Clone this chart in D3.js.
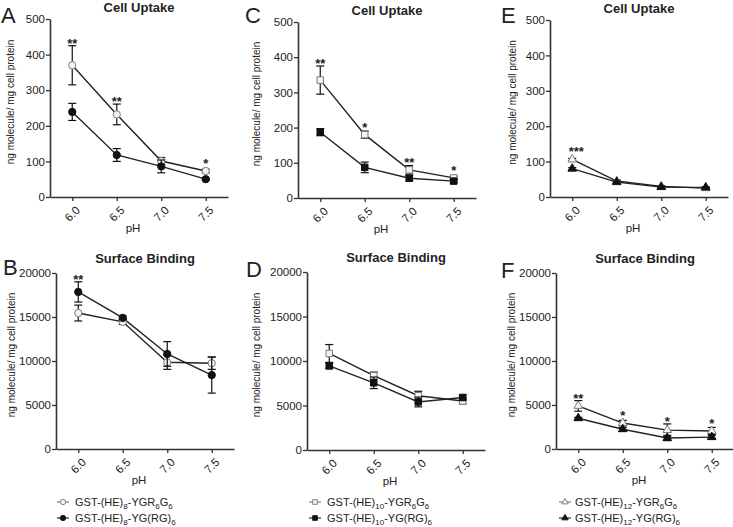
<!DOCTYPE html>
<html>
<head>
<meta charset="utf-8">
<script src="https://cdn.jsdelivr.net/npm/d3@7"></script>
<style>
  body { margin: 0; background: #fff; }
  svg text { font-family: "Liberation Sans", Arial, sans-serif; fill: #222; }
</style>
</head>
<body>
<div id="chart"></div>
<script>
// pH levels on the x axis
const phValues = [6.0, 6.5, 7.0, 7.5];
const phTickLabels = ["6.0", "6.5", "7.0", "7.5"];
const uptakeTicks = [0, 100, 200, 300, 400, 500];
const bindingTicks = [0, 5000, 10000, 15000, 20000];

// GST-(HE)8
const uptakeHE8Open = [370, 232, 101, 73];
const uptakeHE8OpenErr = [55, 29, 10, 5];
const uptakeHE8Filled = [239, 118, 86, 50];
const uptakeHE8FilledErr = [24, 18, 18, 3];
const uptakeHE8Stars = ["**", "**", "", "*"];
const bindingHE8Open = [15450, 14450, 9850, 9750];
const bindingHE8OpenErr = [900, 300, 800, 700];
const bindingHE8Filled = [17850, 14900, 10800, 8400];
const bindingHE8FilledErr = [1150, 200, 1400, 2050];
const bindingHE8Stars = ["**", "", "", ""];

// GST-(HE)10
const uptakeHE10Open = [335, 180, 80, 57];
const uptakeHE10OpenErr = [40, 10, 12, 5];
const uptakeHE10Filled = [187, 87, 56, 48];
const uptakeHE10FilledErr = [10, 15, 8, 5];
const uptakeHE10Stars = ["**", "*", "**", "*"];
const bindingHE10Open = [10850, 8350, 6100, 5500];
const bindingHE10OpenErr = [1000, 400, 500, 300];
const bindingHE10Filled = [9450, 7550, 5400, 5900];
const bindingHE10FilledErr = [300, 650, 550, 300];
const bindingHE10Stars = ["", "", "", ""];

// GST-(HE)12
const uptakeHE12Open = [106, 45, 30, 25];
const uptakeHE12OpenErr = [3, 3, 2, 2];
const uptakeHE12Filled = [80, 42, 28, 27];
const uptakeHE12FilledErr = [3, 3, 2, 2];
const uptakeHE12Stars = ["***", "", "", ""];
const bindingHE12Open = [4900, 2950, 2150, 2050];
const bindingHE12OpenErr = [600, 300, 700, 400];
const bindingHE12Filled = [3500, 2250, 1250, 1350];
const bindingHE12FilledErr = [100, 200, 300, 200];
const bindingHE12Stars = ["**", "*", "*", "*"];

const legendHE = ["8", "10", "12"];

const W = 733, H = 527;
const svg = d3.select("#chart").append("svg")
    .attr("width", W).attr("height", H);

const axisColor = "#333";

function drawPanel(p) {
    const x = d3.scaleLinear().domain([5.75, 7.75]).range([p.x0, p.x0 + 178]);
    const y = d3.scaleLinear().domain(p.domain).range([p.yBottom, p.yTop]);
    const g = svg.append("g");

    // y axis
    const ya = g.append("g")
        .attr("transform", `translate(${p.x0},0)`)
        .call(d3.axisLeft(y).tickValues(p.ticks).tickSize(4).tickSizeOuter(0).tickFormat(d3.format("d")));
    ya.select(".domain").attr("stroke", axisColor).attr("stroke-width", 1.6);
    ya.selectAll(".tick line").attr("stroke", axisColor).attr("stroke-width", 1.3);
    ya.selectAll(".tick text").attr("font-size", 11.5).attr("x", -5).attr("fill", "#222")
        .style("font-family", "Liberation Sans, Arial, sans-serif");

    // x axis
    const xa = g.append("g")
        .attr("transform", `translate(0,${p.yBottom})`)
        .call(d3.axisBottom(x).tickValues(phValues).tickSize(4).tickSizeOuter(0)
            .tickFormat((d, i) => phTickLabels[i]));
    xa.select(".domain").attr("stroke", axisColor).attr("stroke-width", 1.6);
    xa.selectAll(".tick line").attr("stroke", axisColor).attr("stroke-width", 1.3);
    xa.selectAll(".tick text")
        .attr("font-size", 11.5).attr("fill", "#222")
        .style("font-family", "Liberation Sans, Arial, sans-serif")
        .attr("text-anchor", "end")
        .attr("x", 0).attr("y", 0).attr("dy", 0)
        .attr("transform", "translate(8,14) rotate(-45)");

    // titles
    g.append("text")
        .attr("x", p.x0 + 89).attr("y", p.yTop - (p.row === 0 ? 7 : 10))
        .attr("text-anchor", "middle")
        .attr("font-weight", "bold").attr("font-size", 13)
        .text(p.title);

    g.append("text")
        .attr("x", p.x0 + 83).attr("y", p.yBottom + 35)
        .attr("text-anchor", "middle").attr("font-size", 11.5)
        .text("pH");

    g.append("text")
        .attr("transform", `translate(${p.x0 - p.labelOff},${(p.yTop + p.yBottom) / 2 - 6}) rotate(-90)`)
        .attr("text-anchor", "middle").attr("font-size", 10)
        .text("ng molecule/ mg cell protein");

    g.append("text")
        .attr("x", p.letterX).attr("y", p.letterY)
        .attr("font-size", 22)
        .text(p.letter);

    const series = [
        {vals: p.open, errs: p.openErr, fill: "#f4f4f4", stroke: "#7a7a7a"},
        {vals: p.filled, errs: p.filledErr, fill: "#111", stroke: "#111"}
    ];

    const line = d3.line().x((d, i) => x(phValues[i])).y(d => y(d));
    series.forEach(s => {
        g.append("path")
            .attr("d", line(s.vals))
            .attr("fill", "none").attr("stroke", "#222").attr("stroke-width", 1.4);
    });

    series.forEach(s => {
        const eb = g.append("g");
        s.vals.forEach((v, i) => {
            const cx = x(phValues[i]);
            const top = y(v + s.errs[i]), bot = y(v - s.errs[i]);
            eb.append("line").attr("x1", cx).attr("x2", cx).attr("y1", top).attr("y2", bot)
                .attr("stroke", "#111").attr("stroke-width", 1.2);
            [top, bot].forEach(yy => {
                eb.append("line").attr("x1", cx - 4).attr("x2", cx + 4).attr("y1", yy).attr("y2", yy)
                    .attr("stroke", "#111").attr("stroke-width", 1.2);
            });
        });
        g.selectAll(null).data(s.vals).enter().append("path")
            .attr("d", d3.symbol().type(p.symbol).size(p.symbolSize))
            .attr("transform", (d, i) => `translate(${x(phValues[i])},${y(d)})`)
            .attr("fill", s.fill).attr("stroke", s.stroke).attr("stroke-width", 1);
    });

    // significance stars
    g.selectAll(null).data(p.stars).enter().append("text")
        .attr("x", (d, i) => x(phValues[i]) + (d.length > 2 ? 4 : 0))
        .attr("y", (d, i) => {
            const top = Math.min(
                y(p.open[i] + p.openErr[i]), y(p.filled[i] + p.filledErr[i]),
                y(p.open[i]) - 5, y(p.filled[i]) - 5);
            return top + 2;
        })
        .attr("text-anchor", "middle").attr("font-size", 13).attr("font-weight", "bold")
        .text(d => d);
}

const panels = [
    {letter: "A", letterX: 1, letterY: 23, title: "Cell Uptake", row: 0, x0: 50, yTop: 19, yBottom: 197,
     domain: [0, 500], ticks: uptakeTicks, labelOff: 36, symbol: d3.symbolCircle, symbolSize: 42,
     open: uptakeHE8Open, openErr: uptakeHE8OpenErr, filled: uptakeHE8Filled, filledErr: uptakeHE8FilledErr,
     stars: uptakeHE8Stars},
    {letter: "C", letterX: 245, letterY: 23, title: "Cell Uptake", row: 0, x0: 298, yTop: 22, yBottom: 198,
     domain: [0, 500], ticks: uptakeTicks, labelOff: 38, symbol: d3.symbolSquare, symbolSize: 42,
     open: uptakeHE10Open, openErr: uptakeHE10OpenErr, filled: uptakeHE10Filled, filledErr: uptakeHE10FilledErr,
     stars: uptakeHE10Stars},
    {letter: "E", letterX: 501, letterY: 23, title: "Cell Uptake", row: 0, x0: 550, yTop: 20, yBottom: 197,
     domain: [0, 500], ticks: uptakeTicks, labelOff: 34, symbol: d3.symbolTriangle, symbolSize: 32,
     open: uptakeHE12Open, openErr: uptakeHE12OpenErr, filled: uptakeHE12Filled, filledErr: uptakeHE12FilledErr,
     stars: uptakeHE12Stars},
    {letter: "B", letterX: 3, letterY: 275, title: "Surface Binding", row: 1, x0: 56, yTop: 273, yBottom: 449,
     domain: [0, 20000], ticks: bindingTicks, labelOff: 41, symbol: d3.symbolCircle, symbolSize: 42,
     open: bindingHE8Open, openErr: bindingHE8OpenErr, filled: bindingHE8Filled, filledErr: bindingHE8FilledErr,
     stars: bindingHE8Stars},
    {letter: "D", letterX: 246, letterY: 277, title: "Surface Binding", row: 1, x0: 307, yTop: 272, yBottom: 450,
     domain: [0, 20000], ticks: bindingTicks, labelOff: 47, symbol: d3.symbolSquare, symbolSize: 42,
     open: bindingHE10Open, openErr: bindingHE10OpenErr, filled: bindingHE10Filled, filledErr: bindingHE10FilledErr,
     stars: bindingHE10Stars},
    {letter: "F", letterX: 501, letterY: 278, title: "Surface Binding", row: 1, x0: 556, yTop: 273, yBottom: 449,
     domain: [0, 20000], ticks: bindingTicks, labelOff: 41, symbol: d3.symbolTriangle, symbolSize: 32,
     open: bindingHE12Open, openErr: bindingHE12OpenErr, filled: bindingHE12Filled, filledErr: bindingHE12FilledErr,
     stars: bindingHE12Stars}
];

panels.forEach(drawPanel);

// legends under the bottom row
const legendCols = [
    {mx: 63, tx: 75, symbol: d3.symbolCircle, size: 22},
    {mx: 315, tx: 327, symbol: d3.symbolSquare, size: 22},
    {mx: 565, tx: 575, symbol: d3.symbolTriangle, size: 18}
];
const legendRows = [502, 518];

legendCols.forEach((c, k) => {
    legendRows.forEach((ry, r) => {
        const lg = svg.append("g");
        lg.append("line").attr("x1", c.mx - 6).attr("x2", c.mx + 6).attr("y1", ry).attr("y2", ry)
            .attr("stroke", r === 0 ? "#777" : "#111").attr("stroke-width", 1.1);
        lg.append("path")
            .attr("d", d3.symbol().type(c.symbol).size(c.size))
            .attr("transform", `translate(${c.mx},${ry})`)
            .attr("fill", r === 0 ? "#f4f4f4" : "#111")
            .attr("stroke", r === 0 ? "#7a7a7a" : "#111").attr("stroke-width", 0.9);
        const t = lg.append("text").attr("x", c.tx).attr("y", ry + 4).attr("font-size", 11);
        t.append("tspan").text("GST-(HE)");
        t.append("tspan").attr("font-size", 8).attr("dy", 3).text(legendHE[k]);
        if (r === 0) {
            t.append("tspan").attr("dy", -3).text("-YGR");
            t.append("tspan").attr("font-size", 8).attr("dy", 3).text("6");
            t.append("tspan").attr("dy", -3).text("G");
            t.append("tspan").attr("font-size", 8).attr("dy", 3).text("6");
        } else {
            t.append("tspan").attr("dy", -3).text("-YG(RG)");
            t.append("tspan").attr("font-size", 8).attr("dy", 3).text("6");
        }
    });
});
</script>
</body>
</html>
